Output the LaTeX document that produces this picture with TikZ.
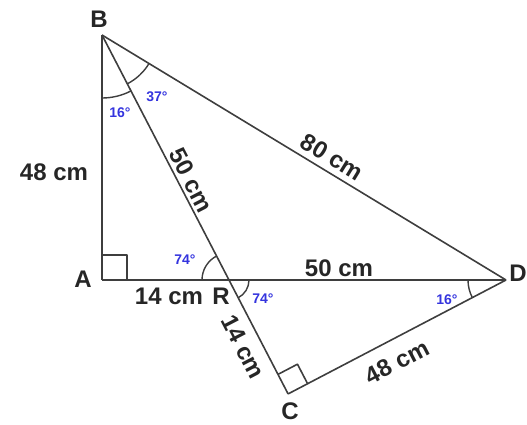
\documentclass[tikz,border=0pt]{standalone}
\usepackage{fontspec}
\setmainfont{Liberation Sans}
\usetikzlibrary{calc,angles}
\definecolor{edgec}{RGB}{62,62,62}
\definecolor{angblue}{RGB}{52,52,222}
\begin{document}
\begin{tikzpicture}[x=1pt,y=1pt,
  edge/.style={draw=edgec, line width=1.6pt, line join=round},
  arcmark/.style={draw=edgec, line width=1.4pt},
  lbl/.style={font=\fontsize{24}{24}\selectfont\bfseries, text=black!85, inner sep=0pt},
  anglbl/.style={font=\fontsize{14}{14}\selectfont\bfseries, text=angblue, inner sep=0pt}]
\useasboundingbox (0,0) rectangle (527,-424);
% points
\coordinate (B) at (102,-35);
\coordinate (A) at (102,-280);
\coordinate (R) at (229,-280);
\coordinate (D) at (506,-280);
\coordinate (C) at (288.1,-393.9);
% sides
\draw[edge] (B) -- (A);
\draw[edge] (A) -- (R) -- (D);
\draw[edge] (B) -- (R) -- (C);
\draw[edge] (B) -- (D);
\draw[edge] (C) -- (D);
% right angles
\draw[edge] ($(A)+(0,25)$) -- ++(25,0) -- ++(0,-25);
\coordinate (c1) at ($(C)!22pt!(D)$);
\coordinate (c2) at ($(C)!22pt!(R)$);
\draw[edge] (c1) -- ($(c1)+(c2)-(C)$) -- (c2);
% angle arcs
\pic[arcmark, angle radius=63] {angle = A--B--R};
\pic[arcmark, angle radius=55] {angle = R--B--D};
\pic[arcmark, angle radius=27] {angle = B--R--A};
\pic[arcmark, angle radius=20] {angle = C--R--D};
\pic[arcmark, angle radius=38] {angle = R--D--C};
% vertex labels
\node[lbl] (lB) at (99,-19) {B};
\node[lbl] (lA) at (83,-279) {A};
\node[lbl] (lR) at (221,-296) {R};
\node[lbl] (lD) at (518,-273) {D};
\node[lbl] (lC) at (290,-411) {C};
% length labels
\node[lbl] (lAB) at (54,-172) {48 cm};
\node[lbl, rotate=-62.6] (lBR) at (191,-180) {50 cm};
\node[lbl, rotate=-31.6] (lBD) at (332,-157) {80 cm};
\node[lbl] (lRD) at (339,-268) {50 cm};
\node[lbl] (lAR) at (169,-296) {14 cm};
\node[lbl, rotate=-62.6] (lRC) at (243,-347) {14 cm};
\node[lbl, rotate=27.4] (lCD) at (397,-362) {48 cm};
% angle labels
\node[anglbl] (aB1) at (120,-113) {16°};
\node[anglbl] (aB2) at (157,-97) {37°};
\node[anglbl] (aR1) at (185,-260) {74°};
\node[anglbl] (aR2) at (263,-299) {74°};
\node[anglbl] (aD) at (447,-300) {16°};
\end{tikzpicture}
\end{document}
